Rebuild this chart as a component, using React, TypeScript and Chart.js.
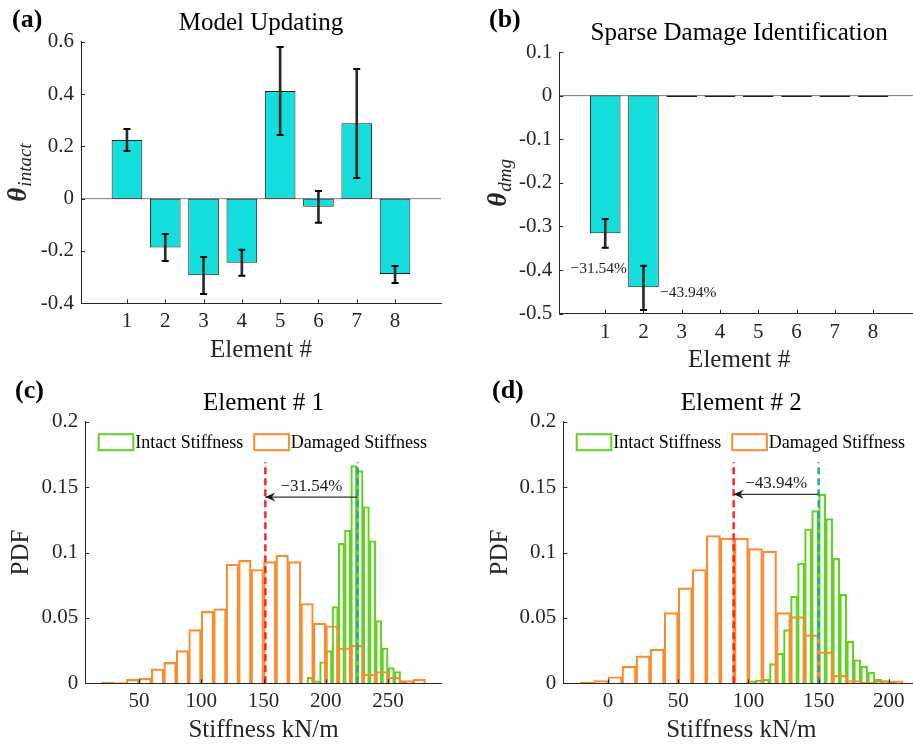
import React, { useEffect, useRef } from 'react';
import { Chart, registerables } from 'chart.js';

Chart.register(...registerables);

const W = 925;
const H = 747;
const FONT = '"Liberation Serif", "Times New Roman", serif';
const AXIS = '#262626';
const TEXT = '#000000';
const CYAN = '#13dedc';
const BAR_EDGE = '#1e1e1e';
const GREEN = '#62d124';
const ORANGE = '#fa8c2e';
const RED = '#ff2222';
const TEAL = '#20ad88';

// ---------- (a) Model updating ----------
const ELEMENTS = [1, 2, 3, 4, 5, 6, 7, 8];
const ELEMENT_LABELS = ['1', '2', '3', '4', '5', '6', '7', '8'];
const THETA_INTACT = [0.224, -0.187, -0.293, -0.245, 0.412, -0.031, 0.288, -0.288];
const THETA_INTACT_LO = [0.182, -0.238, -0.364, -0.295, 0.243, -0.092, 0.079, -0.322];
const THETA_INTACT_HI = [0.266, -0.135, -0.223, -0.195, 0.58, 0.029, 0.496, -0.257];
const INTACT_Y_TICKS = [-0.4, -0.2, 0, 0.2, 0.4, 0.6];
const INTACT_Y_LABELS = ['-0.4', '-0.2', '0', '0.2', '0.4', '0.6'];

// ---------- (b) Sparse damage identification ----------
const THETA_DMG = [-0.3154, -0.4394, -0.003, -0.003, -0.003, -0.003, -0.003, -0.003];
const THETA_DMG_LO = [-0.349, -0.4915, null, null, null, null, null, null];
const THETA_DMG_HI = [-0.283, -0.39, null, null, null, null, null, null];
const DMG_Y_TICKS = [-0.5, -0.4, -0.3, -0.2, -0.1, 0, 0.1];
const DMG_Y_LABELS = ['-0.5', '-0.4', '-0.3', '-0.2', '-0.1', '0', '0.1'];
const DMG_NOTES = ['\u221231.54%', '\u221243.94%'];
const DMG_NOTE_X = [1.57, 2.43];
const DMG_NOTE_Y = [-0.4067, -0.4617];
const DMG_NOTE_ALIGN = ['right', 'left'];

// ---------- (c) Element # 1 histograms ----------
const E1_INTACT_X = [187.5, 192.5, 197.5, 202.5, 207.5, 212.5, 217.5, 222.5, 227.5, 232.5, 237.5, 242.5, 247.5, 252.5, 257.5, 262.5];
const E1_INTACT_PDF = [0.0045, 0.0018, 0.0165, 0.025, 0.0586, 0.107, 0.117, 0.1664, 0.1626, 0.135, 0.109, 0.048, 0.027, 0.012, 0.009, 0.001];
const E1_DAMAGED_X = [25, 35, 45, 55, 65, 75, 85, 95, 105, 115, 125, 135, 145, 155, 165, 175, 185, 195, 205, 215, 225, 235, 245, 255, 265, 275];
const E1_DAMAGED_PDF = [0.001, 0.0005, 0.003, 0.004, 0.011, 0.016, 0.025, 0.041, 0.055, 0.057, 0.091, 0.094, 0.087, 0.093, 0.098, 0.093, 0.061, 0.046, 0.044, 0.027, 0.029, 0.007, 0.009, 0.0046, 0.002, 0.003];
const E1_X_TICKS = [50, 100, 150, 200, 250];
const E1_X_LABELS = ['50', '100', '150', '200', '250'];
const E1_MEANS = [225.5, 151.5]; // intact, damaged
const E1_ARROW_Y = 0.1424;
const E1_CHANGE = '\u221231.54%';

// ---------- (d) Element # 2 histograms ----------
const E2_INTACT_X = [102.5, 107.5, 112.5, 117.5, 122.5, 127.5, 132.5, 137.5, 142.5, 147.5, 152.5, 157.5, 162.5, 167.5, 172.5, 177.5, 182.5, 187.5, 192.5, 197.5, 202.5];
const E2_INTACT_PDF = [0.0018, 0.0025, 0.003, 0.015, 0.023, 0.041, 0.0667, 0.092, 0.118, 0.132, 0.1445, 0.126, 0.0955, 0.068, 0.032, 0.018, 0.013, 0.0086, 0.003, 0.002, 0.001];
const E2_DAMAGED_X = [-15, -5, 5, 15, 25, 35, 45, 55, 65, 75, 85, 95, 105, 115, 125, 135, 145, 155, 165, 175, 185, 195, 205];
const E2_DAMAGED_PDF = [0.001, 0.002, 0.005, 0.013, 0.021, 0.026, 0.054, 0.073, 0.087, 0.113, 0.111, 0.111, 0.103, 0.101, 0.054, 0.051, 0.037, 0.024, 0.006, 0.002, 0.001, 0.0018, 0.0018];
const E2_X_TICKS = [0, 50, 100, 150, 200];
const E2_X_LABELS = ['0', '50', '100', '150', '200'];
const E2_MEANS = [150, 89.5];
const E2_ARROW_Y = 0.1445;
const E2_CHANGE = '\u221243.94%';

const PDF_TICKS = [0, 0.05, 0.1, 0.15, 0.2];
const PDF_LABELS = ['0', '0.05', '0.1', '0.15', '0.2'];
const MEAN_LINE_TOP = 0.169;
const LEGEND_LABELS = ['Intact Stiffness', 'Damaged Stiffness'];

// ---------- layout helpers ----------
type Area = { left: number; right: number; top: number; bottom: number };
const Y_BOX = 70;
const X_BOX = 50;
const AREA_A: Area = { left: 81, right: 441, top: 41.7, bottom: 303.3 };
const AREA_B: Area = { left: 559.3, right: 919.2, top: 52, bottom: 313.7 };
const AREA_C: Area = { left: 85.3, right: 441.7, top: 421.7, bottom: 683.3 };
const AREA_D: Area = { left: 563.3, right: 919.2, top: 421.7, bottom: 683.3 };

function paddingFor(a: Area) {
  return { left: a.left - Y_BOX, right: W - a.right, top: a.top, bottom: H - a.bottom - X_BOX };
}

function tickFont() {
  return { family: FONT, size: 21 };
}

function yScale(min: number, max: number, ticks: number[], labels: string[]) {
  return {
    type: 'linear',
    min,
    max,
    afterFit: (s: any) => { s.width = Y_BOX; },
    afterBuildTicks: (s: any) => { s.ticks = ticks.map((v) => ({ value: v })); },
    grid: { display: false, drawTicks: false },
    border: { display: true, color: AXIS, width: 1, z: 1 },
    ticks: { padding: 7, color: AXIS, font: tickFont(), autoSkip: false, callback: (_v: any, i: number) => labels[i] },
  };
}

function xScale(min: number, max: number, ticks: number[], labels: string[], display = true) {
  return {
    type: 'linear',
    display,
    min,
    max,
    offset: false,
    afterFit: (s: any) => { if (display) s.height = X_BOX; },
    afterBuildTicks: (s: any) => { s.ticks = ticks.map((v) => ({ value: v })); },
    grid: { display: false, drawTicks: false, offset: false },
    border: { display: true, color: AXIS, width: 1, z: 1 },
    ticks: { padding: 6, color: AXIS, font: tickFont(), autoSkip: false, maxRotation: 0, callback: (_v: any, i: number) => labels[i] },
  };
}

type Decor = {
  panel: string;
  panelX: number;
  panelY: number;
  title: string;
  xlabel: string;
  ymain: string;
  ysub?: string;
  yBaseX: number;
  greek: boolean;
  extra?: (chart: any, ctx: CanvasRenderingContext2D) => void;
};

function decorPlugin(d: Decor) {
  return {
    id: 'decor',
    afterDraw(chart: any) {
      const ctx: CanvasRenderingContext2D = chart.ctx;
      const a = chart.chartArea;
      const cx = (a.left + a.right) / 2;
      const cy = (a.top + a.bottom) / 2;
      const xs = chart.scales.x;
      const ys = chart.scales.y;
      ctx.save();
      // inward tick marks
      ctx.strokeStyle = AXIS;
      ctx.lineWidth = 1;
      ctx.beginPath();
      xs.ticks.forEach((t: any) => {
        const px = Math.round(xs.getPixelForValue(t.value)) + 0.5;
        ctx.moveTo(px, a.bottom);
        ctx.lineTo(px, a.bottom - 4);
      });
      ys.ticks.forEach((t: any) => {
        const py = Math.round(ys.getPixelForValue(t.value)) + 0.5;
        ctx.moveTo(a.left, py);
        ctx.lineTo(a.left + 4, py);
      });
      ctx.stroke();

      ctx.textBaseline = 'alphabetic';
      // panel label
      ctx.fillStyle = TEXT;
      ctx.textAlign = 'left';
      ctx.font = `bold 26px ${FONT}`;
      ctx.fillText(d.panel, d.panelX, d.panelY);
      // title
      ctx.textAlign = 'center';
      ctx.font = `25px ${FONT}`;
      ctx.fillText(d.title, cx, a.top - 12);
      // x label
      ctx.fillStyle = AXIS;
      ctx.fillText(d.xlabel, cx, a.bottom + 53.5);
      // y label (rotated)
      const mainFont = d.greek ? `italic bold 27px ${FONT}` : `25px ${FONT}`;
      const subFont = `italic 19px ${FONT}`;
      ctx.font = mainFont;
      const w1 = ctx.measureText(d.ymain).width;
      let w2 = 0;
      if (d.ysub) {
        ctx.font = subFont;
        w2 = ctx.measureText(d.ysub).width + 1;
      }
      const total = w1 + w2;
      ctx.save();
      ctx.translate(d.yBaseX, cy + total / 2);
      ctx.rotate(-Math.PI / 2);
      ctx.textAlign = 'left';
      ctx.font = mainFont;
      ctx.fillText(d.ymain, 0, 0);
      if (d.ysub) {
        ctx.font = subFont;
        ctx.fillText(d.ysub, w1 + 1, 5);
      }
      ctx.restore();
      if (d.extra) d.extra(chart, ctx);
      ctx.restore();
    },
  };
}

function baseOptions(area: Area) {
  return {
    responsive: false,
    animation: false,
    events: [],
    layout: { padding: paddingFor(area) },
    plugins: { legend: { display: false }, tooltip: { enabled: false }, title: { display: false } },
  };
}

// ---------- bar panels ----------
function makeBarPanel(
  canvas: HTMLCanvasElement,
  area: Area,
  values: number[],
  lo: (number | null)[],
  hi: (number | null)[],
  yMin: number,
  yMax: number,
  yTicks: number[],
  yLabels: string[],
  decor: Decor,
) {
  const xMin = -0.2;
  const xMax = 9.2;
  const errIdx = ELEMENTS.map((_, i) => i).filter((i) => lo[i] !== null);
  return new Chart(canvas, {
    type: 'bar',
    data: {
      datasets: [
        {
          type: 'line',
          label: 'baseline',
          data: [{ x: xMin, y: 0 }, { x: xMax, y: 0 }],
          borderColor: '#7a7a7a',
          borderWidth: 1,
          pointRadius: 0,
          order: 5,
        },
        {
          type: 'bar',
          label: 'theta',
          data: ELEMENTS.map((x, i) => ({ x, y: values[i] })),
          backgroundColor: CYAN,
          borderColor: BAR_EDGE,
          borderWidth: 1,
          borderSkipped: false,
          barPercentage: 0.8,
          categoryPercentage: 1,
          grouped: false,
          order: 4,
        },
        {
          type: 'bar',
          label: 'error',
          data: errIdx.map((i) => ({ x: ELEMENTS[i], y: [lo[i], hi[i]] })),
          backgroundColor: '#2a2a2a',
          barThickness: 2,
          grouped: false,
          order: 2,
        },
        {
          type: 'scatter',
          label: 'caps',
          data: errIdx.flatMap((i) => [{ x: ELEMENTS[i], y: lo[i] }, { x: ELEMENTS[i], y: hi[i] }]),
          pointStyle: 'line',
          pointRadius: 3.5,
          pointBorderWidth: 2,
          pointBorderColor: '#000',
          borderColor: '#000',
          order: 1,
        },
      ],
    } as any,
    options: {
      ...baseOptions(area),
      scales: {
        x: xScale(xMin, xMax, ELEMENTS, ELEMENT_LABELS),
        y: yScale(yMin, yMax, yTicks, yLabels),
      },
    } as any,
    plugins: [decorPlugin(decor)],
  });
}

function makeA(canvas: HTMLCanvasElement) {
  return makeBarPanel(canvas, AREA_A, THETA_INTACT, THETA_INTACT_LO, THETA_INTACT_HI, -0.4, 0.6, INTACT_Y_TICKS, INTACT_Y_LABELS, {
    panel: '(a)', panelX: 12, panelY: 27, title: 'Model Updating', xlabel: 'Element #',
    ymain: '\u03b8', ysub: 'intact', yBaseX: 26, greek: true,
  });
}

function makeB(canvas: HTMLCanvasElement) {
  return makeBarPanel(canvas, AREA_B, THETA_DMG, THETA_DMG_LO, THETA_DMG_HI, -0.5, 0.1, DMG_Y_TICKS, DMG_Y_LABELS, {
    panel: '(b)', panelX: 489, panelY: 27, title: 'Sparse Damage Identification', xlabel: 'Element #',
    ymain: '\u03b8', ysub: 'dmg', yBaseX: 506, greek: true,
    extra: (chart, ctx) => {
      const xs = chart.scales.x;
      const ys = chart.scales.y;
      ctx.fillStyle = '#1a1a1a';
      ctx.font = `15.5px ${FONT}`;
      ctx.textBaseline = 'alphabetic';
      DMG_NOTES.forEach((t, i) => {
        ctx.textAlign = DMG_NOTE_ALIGN[i] as CanvasTextAlign;
        ctx.fillText(t, xs.getPixelForValue(DMG_NOTE_X[i]), ys.getPixelForValue(DMG_NOTE_Y[i]));
      });
    },
  });
}

// ---------- histogram panels ----------
function makeHistPanel(
  canvas: HTMLCanvasElement,
  area: Area,
  xMin: number,
  xMax: number,
  xTicks: number[],
  xLabels: string[],
  intX: number[],
  intPdf: number[],
  dmgX: number[],
  dmgPdf: number[],
  means: number[],
  arrowY: number,
  change: string,
  decor: Decor,
) {
  const histStyle = {
    type: 'bar',
    backgroundColor: 'rgba(255,255,255,0)',
    borderWidth: 1.5,
    barPercentage: 1,
    categoryPercentage: 1,
    grouped: false,
  };
  const colors = [GREEN, ORANGE];
  const extra = (chart: any, ctx: CanvasRenderingContext2D) => {
    // arrow head + change text
    const meta = chart.getDatasetMeta(4);
    const p0 = meta.data[0];
    const p1 = meta.data[1];
    ctx.fillStyle = '#1a1a1a';
    ctx.beginPath();
    ctx.moveTo(p1.x, p1.y);
    ctx.lineTo(p1.x + 10, p1.y - 4.5);
    ctx.lineTo(p1.x + 6.5, p1.y);
    ctx.lineTo(p1.x + 10, p1.y + 4.5);
    ctx.closePath();
    ctx.fill();
    ctx.font = `17px ${FONT}`;
    ctx.textAlign = 'center';
    ctx.textBaseline = 'alphabetic';
    ctx.fillStyle = '#1a1a1a';
    ctx.fillText(change, (p0.x + p1.x) / 2, p0.y - 6);
    // legend
    const a = chart.chartArea;
    const boxY = a.top + 12.5;
    const offs = [13.4, 169];
    ctx.font = `18px ${FONT}`;
    ctx.textAlign = 'left';
    LEGEND_LABELS.forEach((lab, i) => {
      const bx = a.left + offs[i];
      ctx.fillStyle = '#fff';
      ctx.fillRect(bx, boxY, 34.6, 16);
      ctx.strokeStyle = colors[i];
      ctx.lineWidth = 2;
      ctx.strokeRect(bx, boxY, 34.6, 16);
      ctx.fillStyle = TEXT;
      ctx.fillText(lab, bx + 36.5, boxY + 13.5);
    });
  };
  return new Chart(canvas, {
    type: 'bar',
    data: {
      datasets: [
        { ...histStyle, label: LEGEND_LABELS[0], xAxisID: 'x2', data: intX.map((x, i) => ({ x, y: intPdf[i] })), borderColor: GREEN, order: 5 },
        { ...histStyle, label: LEGEND_LABELS[1], xAxisID: 'x', data: dmgX.map((x, i) => ({ x, y: dmgPdf[i] })), borderColor: ORANGE, order: 4 },
        {
          type: 'line', label: 'intact mean', xAxisID: 'x',
          data: [{ x: means[0], y: 0 }, { x: means[0], y: MEAN_LINE_TOP }],
          borderColor: TEAL, borderWidth: 2.5, borderDash: [7, 4], pointRadius: 0, order: 2,
        },
        {
          type: 'line', label: 'damaged mean', xAxisID: 'x',
          data: [{ x: means[1], y: 0 }, { x: means[1], y: MEAN_LINE_TOP }],
          borderColor: RED, borderWidth: 2.5, borderDash: [7, 4], pointRadius: 0, order: 2,
        },
        {
          type: 'line', label: 'change', xAxisID: 'x',
          data: [{ x: means[0], y: arrowY }, { x: means[1], y: arrowY }],
          borderColor: '#333', borderWidth: 1.3, pointRadius: 0, order: 1,
        },
      ],
    } as any,
    options: {
      ...baseOptions(area),
      scales: {
        x: xScale(xMin, xMax, xTicks, xLabels),
        x2: { ...xScale(xMin, xMax, xTicks, xLabels, false), axis: 'x', position: 'bottom' },
        y: yScale(0, 0.2, PDF_TICKS, PDF_LABELS),
      },
    } as any,
    plugins: [decorPlugin({ ...decor, extra })],
  });
}

function makeC(canvas: HTMLCanvasElement) {
  return makeHistPanel(canvas, AREA_C, 7, 293, E1_X_TICKS, E1_X_LABELS, E1_INTACT_X, E1_INTACT_PDF, E1_DAMAGED_X, E1_DAMAGED_PDF, E1_MEANS, E1_ARROW_Y, E1_CHANGE, {
    panel: '(c)', panelX: 15, panelY: 398, title: 'Element # 1', xlabel: 'Stiffness kN/m',
    ymain: 'PDF', yBaseX: 28, greek: false,
  });
}

function makeD(canvas: HTMLCanvasElement) {
  return makeHistPanel(canvas, AREA_D, -31.8, 221.6, E2_X_TICKS, E2_X_LABELS, E2_INTACT_X, E2_INTACT_PDF, E2_DAMAGED_X, E2_DAMAGED_PDF, E2_MEANS, E2_ARROW_Y, E2_CHANGE, {
    panel: '(d)', panelX: 492, panelY: 398, title: 'Element # 2', xlabel: 'Stiffness kN/m',
    ymain: 'PDF', yBaseX: 507, greek: false,
  });
}

function ChartCanvas({ make }: { make: (c: HTMLCanvasElement) => Chart }) {
  const ref = useRef<HTMLCanvasElement>(null);
  useEffect(() => {
    const chart = make(ref.current as HTMLCanvasElement);
    return () => chart.destroy();
  }, [make]);
  return (
    <canvas
      ref={ref}
      width={W}
      height={H}
      style={{ position: 'absolute', left: 0, top: 0, width: W, height: H }}
    />
  );
}

export default function App() {
  return (
    <div style={{ position: 'absolute', left: 0, top: 0, width: 913, height: 747, overflow: 'hidden', background: '#ffffff' }}>
      <ChartCanvas make={makeA} />
      <ChartCanvas make={makeB} />
      <ChartCanvas make={makeC} />
      <ChartCanvas make={makeD} />
    </div>
  );
}
